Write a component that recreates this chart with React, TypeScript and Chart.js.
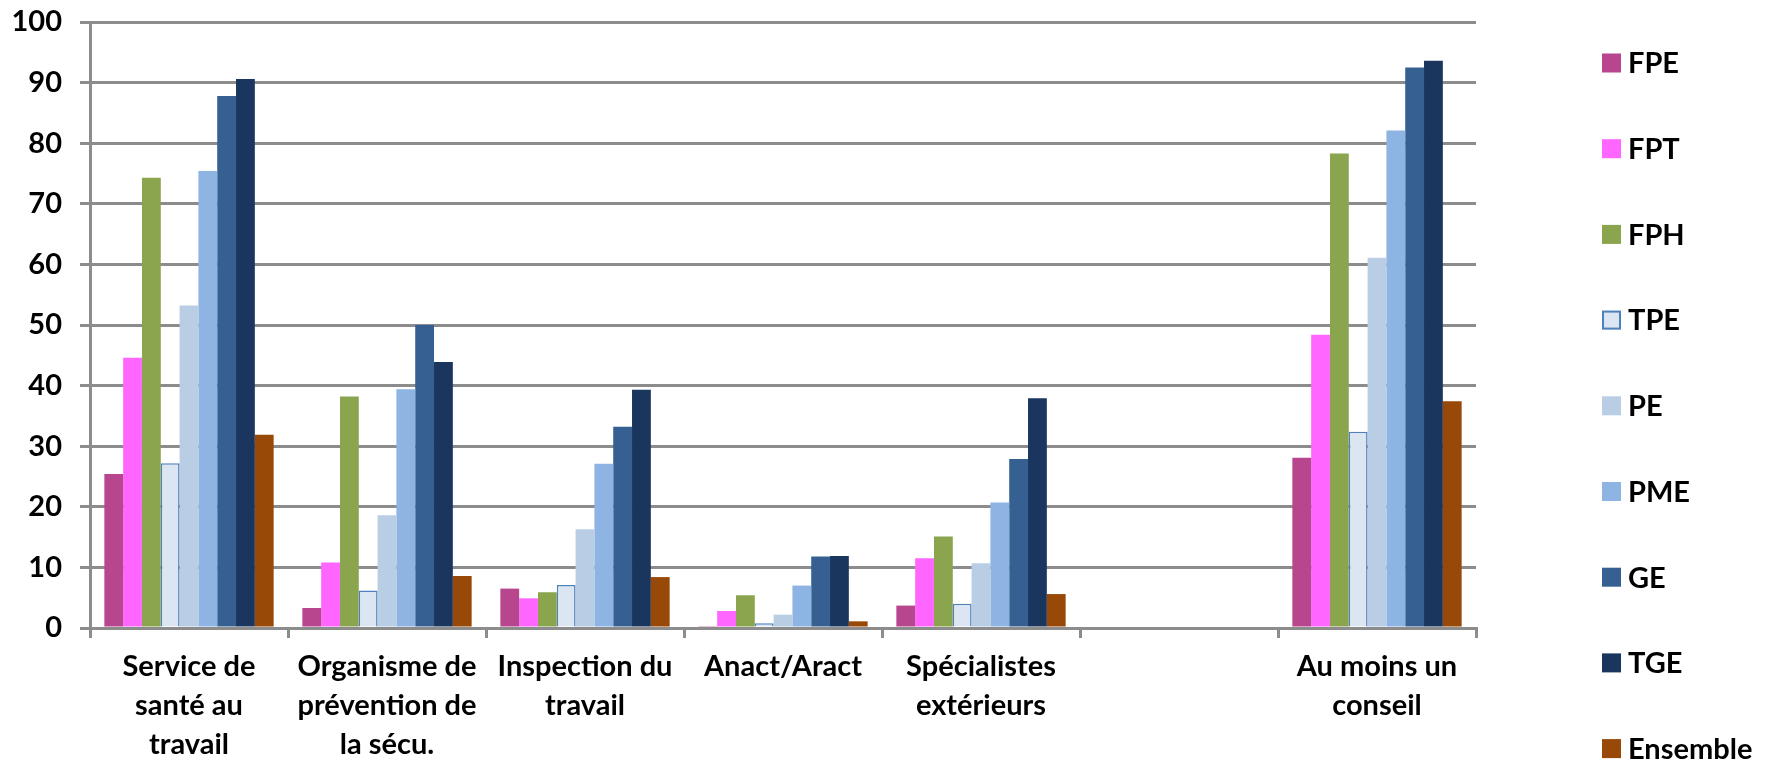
import React, { useEffect, useRef } from "react";
import { Chart, registerables } from "chart.js";

Chart.register(...registerables);

const categories: (string | string[])[] = [
  ["Service de", "santé au", "travail"],
  ["Organisme de", "prévention de", "la sécu."],
  ["Inspection du", "travail"],
  ["Anact/Aract"],
  ["Spécialistes", "extérieurs"],
  [""],
  ["Au moins un", "conseil"],
];

const seriesNames = ["FPE", "FPT", "FPH", "TPE", "PE", "PME", "GE", "TGE", "Ensemble"];

const FPE = [25.4, 3.3, 6.5, 0.3, 3.7, null, 28.1];
const FPT = [44.6, 10.8, 4.9, 2.8, 11.5, null, 48.4];
const FPH = [74.3, 38.2, 5.9, 5.4, 15.1, null, 78.3];
const TPE = [27.2, 6.2, 7.1, 0.8, 4.0, null, 32.4];
const PE = [53.2, 18.6, 16.3, 2.2, 10.7, null, 61.1];
const PME = [75.4, 39.4, 27.1, 7.0, 20.7, null, 82.1];
const GE = [87.8, 50.0, 33.2, 11.8, 27.9, null, 92.5];
const TGE = [90.6, 43.9, 39.3, 11.9, 37.9, null, 93.6];
const Ensemble = [31.9, 8.6, 8.4, 1.1, 5.6, null, 37.4];

const seriesValues = [FPE, FPT, FPH, TPE, PE, PME, GE, TGE, Ensemble];
const fillColors = ["#B8468E", "#FF66FF", "#8AA54E", "#DCE6F2", "#B9CDE5", "#8EB4E3", "#366092", "#1A365E", "#984807"];
const borderColors = ["#B8468E", "#FF66FF", "#8AA54E", "#4F81BD", "#B9CDE5", "#8EB4E3", "#366092", "#1A365E", "#984807"];
const borderWidths = [0, 0, 0, 1.5, 0, 0, 0, 0, 0];

const yTicks = [0, 10, 20, 30, 40, 50, 60, 70, 80, 90, 100];

const GRID = "#8C8C8C";
const FONT = "Lato, 'Liberation Sans', sans-serif";

const legendPlugin = {
  id: "sideLegend",
  afterDraw(chart: any) {
    const ctx = chart.ctx;
    const area = chart.chartArea;
    const x0 = area.right + 126;
    const y0 = 63;
    const step = 85.7;
    ctx.save();
    chart.data.datasets.forEach((ds: any, i: number) => {
      const y = y0 + i * step;
      ctx.fillStyle = ds.backgroundColor;
      ctx.fillRect(x0, y - 9.5, 19, 19);
      if (ds.borderWidth > 0) {
        ctx.strokeStyle = ds.borderColor;
        ctx.lineWidth = 2;
        ctx.strokeRect(x0 + 1, y - 8.5, 17, 17);
      }
      ctx.fillStyle = "#000";
      ctx.font = `bold 29px ${FONT}`;
      ctx.textBaseline = "middle";
      ctx.textAlign = "left";
      ctx.fillText(ds.label, x0 + 26, y + 1);
    });
    ctx.restore();
  },
};

export default function App() {
  const ref = useRef<HTMLCanvasElement | null>(null);

  useEffect(() => {
    if (!ref.current) return;
    const chart = new Chart(ref.current, {
      type: "bar",
      data: {
        labels: categories,
        datasets: seriesNames.map((name, i) => ({
          label: name,
          data: seriesValues[i],
          backgroundColor: fillColors[i],
          borderColor: borderColors[i],
          borderWidth: borderWidths[i],
          categoryPercentage: 0.855,
          barPercentage: 1.0,
        })),
      },
      options: {
        animation: false,
        responsive: false,
        layout: { padding: { top: 22, right: 295, bottom: 0, left: 0 } },
        plugins: {
          legend: { display: false },
          tooltip: { enabled: false },
        },
        scales: {
          x: {
            grid: {
              offset: true,
              drawOnChartArea: false,
              drawTicks: true,
              tickLength: 10,
              color: GRID,
              lineWidth: 3,
            },
            border: { display: true, color: GRID, width: 3 },
            ticks: {
              color: "#000",
              font: { family: FONT, size: 29, weight: "bold", lineHeight: 1.35 },
              maxRotation: 0,
              autoSkip: false,
              padding: 9,
            },
            afterFit: (scale: any) => {
              scale.height = 764 - 628;
            },
          },
          y: {
            min: 0,
            max: 100,
            afterBuildTicks: (scale: any) => {
              scale.ticks = yTicks.map((v) => ({ value: v }));
            },
            grid: {
              color: GRID,
              lineWidth: 3,
              drawTicks: true,
              tickLength: 10,
            },
            border: { display: true, color: GRID, width: 3 },
            ticks: {
              color: "#000",
              font: { family: FONT, size: 29, weight: "bold" },
              padding: 18,
            },
            afterFit: (scale: any) => {
              scale.width = 90;
              scale.paddingTop = 0;
              scale.paddingBottom = 0;
            },
          },
        },
      },
      plugins: [legendPlugin],
    });
    return () => chart.destroy();
  }, []);

  return (
    <div style={{ position: "fixed", left: 0, top: 0, width: 1771, height: 764, background: "#fff" }}>
      <canvas ref={ref} width={1771} height={764} />
    </div>
  );
}
